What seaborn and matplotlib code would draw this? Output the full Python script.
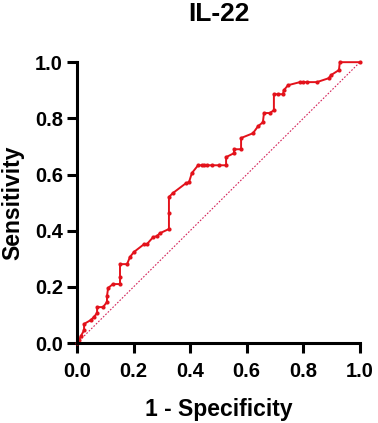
import numpy as np
import pandas as pd
import matplotlib
matplotlib.use("Agg")
import matplotlib.pyplot as plt
import seaborn as sns

# ROC curve points for IL-22
fpr = [0.0, 0.007, 0.014, 0.025, 0.025, 0.049, 0.060, 0.071, 0.071, 0.092,
       0.106, 0.106, 0.110, 0.127, 0.152, 0.152, 0.152, 0.177, 0.187, 0.201,
       0.237, 0.247, 0.269, 0.283, 0.293, 0.325, 0.325, 0.325, 0.339, 0.385,
       0.396, 0.406, 0.428, 0.442, 0.449, 0.459, 0.477, 0.502, 0.527, 0.527,
       0.555, 0.555, 0.580, 0.580, 0.622, 0.640, 0.657, 0.661, 0.682, 0.696,
       0.696, 0.710, 0.728, 0.731, 0.746, 0.788, 0.799, 0.813, 0.848, 0.890,
       0.898, 0.926, 0.929, 1.0]
tpr = [0.0, 0.011, 0.025, 0.046, 0.068, 0.082, 0.093, 0.107, 0.128, 0.128,
       0.146, 0.167, 0.196, 0.210, 0.210, 0.235, 0.281, 0.281, 0.306, 0.324,
       0.352, 0.352, 0.377, 0.381, 0.391, 0.406, 0.463, 0.520, 0.534, 0.569,
       0.573, 0.605, 0.633, 0.633, 0.633, 0.633, 0.633, 0.633, 0.633, 0.662,
       0.676, 0.690, 0.690, 0.730, 0.747, 0.772, 0.786, 0.819, 0.819, 0.829,
       0.886, 0.886, 0.886, 0.900, 0.918, 0.929, 0.929, 0.929, 0.929, 0.943,
       0.954, 0.972, 1.0, 1.0]
ref_line = [0.0, 1.0]

ticks = [0.0, 0.2, 0.4, 0.6, 0.8, 1.0]
tick_labels = ["0.0", "0.2", "0.4", "0.6", "0.8", "1.0"]

sns.set_style("ticks")
plt.rcParams['font.family'] = ['Liberation Sans', 'DejaVu Sans']
plt.rcParams['text.color'] = 'black'
plt.rcParams['axes.labelcolor'] = 'black'

df = pd.DataFrame({'fpr': fpr, 'tpr': tpr})

fig = plt.figure(figsize=(3.78, 4.23), dpi=100)
ax = fig.add_axes([0.2037, 0.189, 0.7484, 0.664])

# diagonal reference line
ax.plot(ref_line, ref_line, color='#d4245a', linestyle=(0, (1.5, 1.5)),
        linewidth=0.8, clip_on=False)

# roc curve
sns.lineplot(data=df, x='fpr', y='tpr', sort=False, estimator=None, ax=ax,
             color='#e3121b', linewidth=1.4, marker='o', markersize=3,
             markeredgewidth=0, clip_on=False)

ax.set_xlim(0, 1)
ax.set_ylim(0, 1)
ax.set_xticks(ticks)
ax.set_xticklabels(tick_labels)
ax.set_yticks(ticks)
ax.set_yticklabels(tick_labels)

for s in ['top', 'right']:
    ax.spines[s].set_visible(False)
for s in ['left', 'bottom']:
    ax.spines[s].set_linewidth(2.2)
    ax.spines[s].set_color('black')

ax.tick_params(axis='both', width=2.2, length=7, direction='out',
               labelsize=14.5, colors='black')
ax.tick_params(axis='x', pad=7)
ax.tick_params(axis='y', pad=3)
for lab in ax.get_xticklabels() + ax.get_yticklabels():
    lab.set_fontweight('bold')

ax.set_xlabel('1 - Specificity', fontsize=16.5, fontweight='bold', labelpad=12)
ax.set_ylabel('Sensitivity', fontsize=16.5, fontweight='bold', labelpad=8)
ax.set_title('IL-22', fontsize=19, fontweight='bold', pad=30)

plt.savefig('out.png', dpi=100)
plt.close()
